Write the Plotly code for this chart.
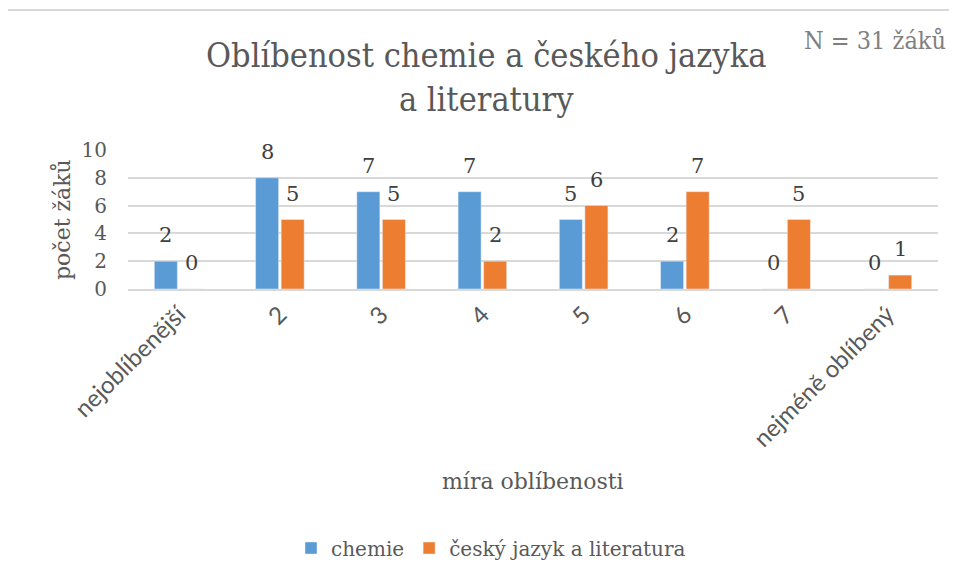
import plotly.graph_objects as go

categories = ["nejoblíbenější", "2", "3", "4", "5", "6", "7", "nejméně oblíbený"]
chemie = [2, 8, 7, 7, 5, 2, 0, 0]
cestina = [0, 5, 5, 2, 6, 7, 5, 1]
y_ticks = [0, 2, 4, 6, 8, 10]

OFF = 8  # page body margin
W, H = 957 - OFF, 578 - OFF
# plot area in screenshot px
SL, SR, ST, SB = 128, 938, 150, 289
L, R, T, B = SL - OFF, SR - OFF, ST - OFF, SB - OFF

def px(x):  # screenshot x -> paper
    return (x - SL) / (SR - SL)

def py(y):  # screenshot y -> paper
    return (SB - y) / (SB - ST)

SERIF = "DejaVu Serif"
COND = "DejaVu Serif Condensed"
LABEL_FONT = dict(family=SERIF, size=21, color="#404040")

fig = go.Figure()
fig.add_trace(go.Bar(name="chemie", x=categories, y=chemie, marker_color="#5B9BD5"))
fig.add_trace(go.Bar(name="český jazyk a literatura", x=categories, y=cestina, marker_color="#ED7D31"))

fig.update_layout(
    width=W, height=H,
    margin=dict(l=L, r=W - R, t=T, b=H - B, pad=0, autoexpand=False),
    paper_bgcolor="white", plot_bgcolor="white",
    barmode="group", bargap=0.495, bargroupgap=0.1,
    showlegend=True,
    legend=dict(orientation="h", xref="container", yref="container",
                x=(491 - OFF) / W, y=1 - (548 - OFF) / H, xanchor="center", yanchor="middle",
                font=dict(family=SERIF, size=20, color="#595959"),
                itemwidth=30, traceorder="normal"),
    xaxis=dict(tickangle=-45, tickfont=dict(family="Lato", size=24, color="#595959"),
               showline=True, linecolor="#d9d9d9", linewidth=2, ticks="", automargin=False),
    yaxis=dict(range=[0, 10], tickvals=y_ticks, showgrid=True, gridcolor="#d9d9d9", gridwidth=2,
               zeroline=False, tickfont=dict(family=SERIF, size=20, color="#595959"),
               ticklabelstandoff=20, automargin=False),
)

annotations = [
    dict(text="Oblíbenost chemie a českého jazyka<br>a literatury", x=px(486), y=py(77),
         xref="paper", yref="paper", showarrow=False, xanchor="center", yanchor="middle",
         font=dict(family=COND, size=34, color="#595959")),
    dict(text="N = 31 žáků", x=px(875), y=py(40), xref="paper", yref="paper", showarrow=False,
         xanchor="center", yanchor="middle", font=dict(family=COND, size=25, color="#7f7f7f")),
    dict(text="počet žáků", x=px(62), y=py(220), xref="paper", yref="paper", showarrow=False,
         textangle=-90, xanchor="center", yanchor="middle",
         font=dict(family=SERIF, size=22, color="#595959")),
    dict(text="míra oblíbenosti", x=px(533), y=py(481), xref="paper", yref="paper", showarrow=False,
         xanchor="center", yanchor="middle", font=dict(family=SERIF, size=22, color="#595959")),
]
# data labels above each bar (x given as category index)
for values, shift in ((chemie, -12.75), (cestina, 12.75)):
    for i, v in enumerate(values):
        annotations.append(dict(text=str(v), x=i, y=v, xref="x", yref="y", showarrow=False,
                                xshift=shift, yshift=26, xanchor="center", yanchor="middle",
                                font=LABEL_FONT))
fig.update_layout(annotations=annotations)

fig.add_shape(type="line", xref="paper", yref="paper", x0=px(7), x1=px(957 + 5), y0=py(10), y1=py(10),
              line=dict(color="#d9d9d9", width=2))
fig.add_shape(type="line", xref="paper", yref="paper", x0=px(7), x1=px(7), y0=py(10), y1=py(578 + 5),
              line=dict(color="#d9d9d9", width=2))

fig.write_html("out.html")
